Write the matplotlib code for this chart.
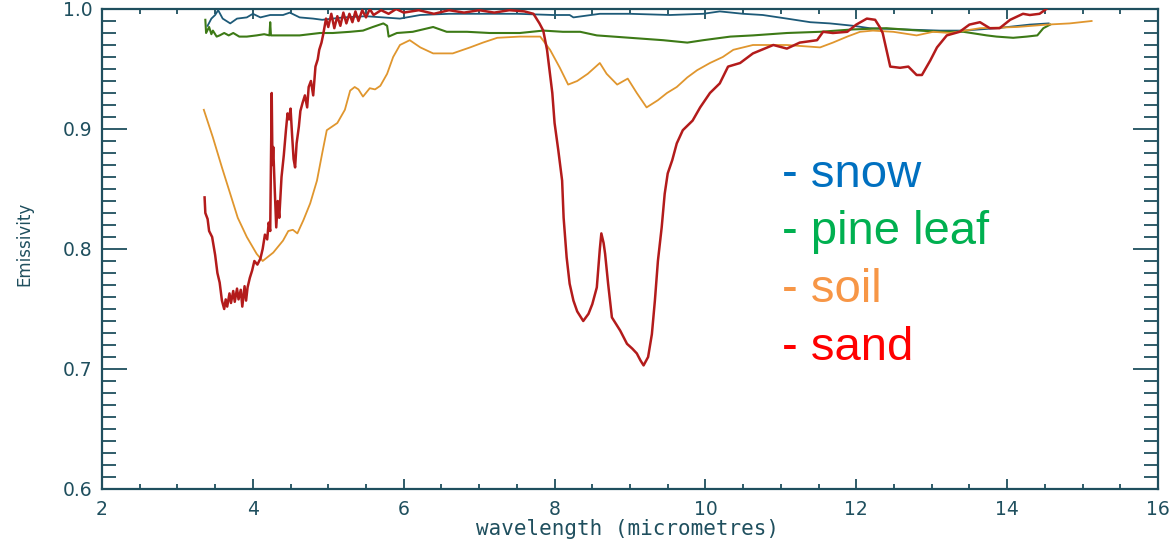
import matplotlib
matplotlib.use("Agg")
import matplotlib.pyplot as plt
from matplotlib.ticker import MultipleLocator, FormatStrFormatter

# ---- data ----
sand_x = [3.36, 3.37, 3.40, 3.42, 3.46, 3.50, 3.53, 3.56, 3.59, 3.62, 3.64, 3.66, 3.69, 3.71,
          3.74, 3.76, 3.79, 3.81, 3.84, 3.86, 3.89, 3.91, 3.93, 3.96, 3.99, 4.02, 4.06, 4.10,
          4.13, 4.16, 4.19, 4.21, 4.23, 4.25, 4.26, 4.27, 4.29, 4.31, 4.33, 4.35, 4.38, 4.41,
          4.44, 4.46, 4.48, 4.50, 4.52, 4.54, 4.56, 4.58, 4.61, 4.63, 4.66, 4.69, 4.72, 4.74,
          4.77, 4.80, 4.83, 4.86, 4.88, 4.91, 4.93, 4.95, 4.97, 5.00, 5.04, 5.08, 5.12, 5.16,
          5.20, 5.24, 5.28, 5.32, 5.36, 5.40, 5.45, 5.50, 5.55, 5.60, 5.70, 5.80, 5.90, 6.00,
          6.20, 6.40, 6.60, 6.80, 7.00, 7.20, 7.40, 7.60, 7.72, 7.80, 7.85, 7.90, 7.94, 7.97,
          8.00, 8.05, 8.10, 8.12, 8.16, 8.20, 8.25, 8.30, 8.38, 8.45, 8.50, 8.56, 8.60, 8.62,
          8.65, 8.67, 8.71, 8.76, 8.82, 8.87, 8.96, 9.03, 9.09, 9.14, 9.18, 9.24, 9.29, 9.33,
          9.37, 9.42, 9.46, 9.50, 9.56, 9.62, 9.70, 9.83, 9.93, 10.06, 10.19, 10.30, 10.46,
          10.63, 10.90, 11.08, 11.25, 11.48, 11.56, 11.69, 11.88, 12.00, 12.14, 12.25, 12.31,
          12.35, 12.40, 12.45, 12.58, 12.69, 12.80, 12.87, 12.98, 13.07, 13.20, 13.37, 13.50,
          13.64, 13.77, 13.90, 14.04, 14.21, 14.30, 14.43, 14.52]
sand_y = [0.843, 0.830, 0.825, 0.815, 0.810, 0.795, 0.780, 0.772, 0.757, 0.750, 0.758, 0.752,
          0.763, 0.755, 0.765, 0.756, 0.767, 0.758, 0.766, 0.752, 0.769, 0.757, 0.768, 0.776,
          0.782, 0.790, 0.787, 0.792, 0.800, 0.812, 0.808, 0.822, 0.815, 0.930, 0.870, 0.885,
          0.850, 0.818, 0.840, 0.826, 0.860, 0.878, 0.900, 0.913, 0.908, 0.917, 0.895, 0.875,
          0.868, 0.888, 0.902, 0.915, 0.922, 0.928, 0.918, 0.935, 0.940, 0.928, 0.952, 0.958,
          0.966, 0.972, 0.978, 0.985, 0.992, 0.985, 0.996, 0.984, 0.994, 0.986, 0.997, 0.988,
          0.996, 0.989, 0.998, 0.990, 0.999, 0.993, 1.000, 0.995, 0.999, 0.996, 1.000, 0.997,
          0.999, 0.996, 0.999, 0.997, 0.999, 0.997, 0.999, 0.998, 0.996, 0.988, 0.982, 0.966,
          0.945, 0.930, 0.905, 0.882, 0.857, 0.826, 0.793, 0.771, 0.757, 0.748, 0.740, 0.746,
          0.754, 0.768, 0.800, 0.813, 0.805, 0.796, 0.771, 0.743, 0.737, 0.732, 0.721, 0.717,
          0.713, 0.707, 0.703, 0.710, 0.729, 0.757, 0.790, 0.818, 0.846, 0.863, 0.874, 0.888,
          0.899, 0.907, 0.918, 0.930, 0.938, 0.952, 0.955, 0.963, 0.970, 0.967, 0.972, 0.974,
          0.981, 0.980, 0.981, 0.987, 0.992, 0.991, 0.985, 0.980, 0.966, 0.952, 0.951, 0.952,
          0.945, 0.945, 0.957, 0.968, 0.978, 0.981, 0.987, 0.989, 0.984, 0.984, 0.991, 0.996,
          0.995, 0.996, 1.000]

soil_x = [3.35, 3.47, 3.59, 3.70, 3.80, 3.92, 4.05, 4.13, 4.27, 4.40, 4.47, 4.53, 4.59, 4.67,
          4.76, 4.85, 4.92, 4.98, 5.05, 5.12, 5.22, 5.29, 5.35, 5.40, 5.46, 5.55, 5.62, 5.69,
          5.78, 5.86, 5.95, 6.08, 6.22, 6.39, 6.65, 6.88, 7.05, 7.24, 7.54, 7.81, 7.94, 8.07,
          8.18, 8.30, 8.44, 8.60, 8.69, 8.83, 8.97, 9.09, 9.22, 9.37, 9.49, 9.62, 9.76, 9.89,
          10.06, 10.23, 10.37, 10.63, 11.08, 11.52, 11.69, 11.88, 12.05, 12.22, 12.49, 12.80,
          13.02, 13.24, 13.64, 14.13, 14.53, 14.83, 15.12]
soil_y = [0.916, 0.893, 0.868, 0.846, 0.826, 0.810, 0.796, 0.790, 0.797, 0.807, 0.815, 0.816,
          0.813, 0.824, 0.838, 0.857, 0.880, 0.899, 0.902, 0.905, 0.916, 0.932, 0.935, 0.933,
          0.927, 0.934, 0.933, 0.936, 0.946, 0.960, 0.970, 0.974, 0.968, 0.963, 0.963, 0.968,
          0.972, 0.976, 0.977, 0.977, 0.966, 0.951, 0.937, 0.940, 0.946, 0.955, 0.946, 0.937,
          0.942, 0.930, 0.918, 0.924, 0.930, 0.935, 0.943, 0.949, 0.955, 0.960, 0.966, 0.970,
          0.970, 0.968, 0.972, 0.977, 0.981, 0.982, 0.981, 0.978, 0.981, 0.980, 0.984, 0.985,
          0.987, 0.988, 0.990]

snow_x = [3.40, 3.45, 3.50, 3.54, 3.60, 3.70, 3.79, 3.92, 4.00, 4.10, 4.23, 4.40, 4.49, 4.62,
          4.80, 4.92, 5.20, 5.50, 5.95, 6.22, 6.60, 7.00, 7.50, 7.98, 8.20, 8.25, 8.60, 9.00,
          9.53, 9.97, 10.19, 10.50, 10.76, 11.08, 11.39, 11.65, 11.96, 12.18, 12.62, 13.11,
          13.42, 13.86, 14.30, 14.55]
snow_y = [0.986, 0.992, 0.995, 0.999, 0.992, 0.988, 0.992, 0.993, 0.996, 0.993, 0.995, 0.995,
          0.997, 0.993, 0.992, 0.991, 0.993, 0.994, 0.992, 0.995, 0.996, 0.996, 0.996, 0.995,
          0.995, 0.993, 0.996, 0.996, 0.995, 0.996, 0.998, 0.996, 0.995, 0.992, 0.989, 0.988,
          0.986, 0.984, 0.983, 0.982, 0.982, 0.984, 0.987, 0.988]

pine_x = [3.37, 3.38, 3.42, 3.45, 3.47, 3.52, 3.56, 3.62, 3.68, 3.74, 3.82, 3.92, 4.05, 4.15,
          4.22, 4.23, 4.24, 4.40, 4.62, 4.89, 5.06, 5.29, 5.46, 5.59, 5.73, 5.78, 5.80, 5.91,
          6.12, 6.39, 6.57, 6.84, 7.14, 7.54, 7.85, 8.11, 8.34, 8.56, 9.00, 9.44, 9.76, 9.97,
          10.33, 10.63, 11.08, 11.52, 11.96, 12.40, 12.84, 13.11, 13.42, 13.73, 13.86, 14.08,
          14.26, 14.40, 14.48, 14.57]
pine_y = [0.991, 0.980, 0.985, 0.979, 0.982, 0.977, 0.978, 0.980, 0.978, 0.980, 0.977, 0.977,
          0.978, 0.979, 0.978, 0.989, 0.978, 0.978, 0.978, 0.980, 0.980, 0.981, 0.982, 0.985,
          0.988, 0.986, 0.977, 0.980, 0.981, 0.985, 0.981, 0.981, 0.980, 0.980, 0.982, 0.981,
          0.981, 0.978, 0.976, 0.974, 0.972, 0.974, 0.977, 0.978, 0.980, 0.981, 0.983, 0.984,
          0.982, 0.981, 0.981, 0.978, 0.977, 0.976, 0.977, 0.978, 0.984, 0.987]

legend_labels = ["snow", "pine leaf", "soil", "sand"]
legend_colors = ["#0070C0", "#00B050", "#F79646", "#FF0000"]

x_ticks = [2, 4, 6, 8, 10, 12, 14, 16]
y_ticks = [0.6, 0.7, 0.8, 0.9, 1.0]

# ---- figure ----
axis_col = "#1f4f5e"
fig = plt.figure(figsize=(11.75, 5.41), dpi=100)
ax = fig.add_axes([102/1175, 1 - 489/541, (1158-102)/1175, (489-9)/541])

ax.plot(snow_x, snow_y, color="#1d5a78", lw=1.3, zorder=3)
ax.plot(pine_x, pine_y, color="#3d7a16", lw=1.5, zorder=3)
ax.plot(soil_x, soil_y, color="#e0962e", lw=1.3, zorder=3)
ax.plot(sand_x, sand_y, color="#b31b1b", lw=1.8, zorder=4)

ax.set_xlim(2, 16)
ax.set_ylim(0.6, 1.0)
ax.set_xticks(x_ticks)
ax.set_yticks(y_ticks)
ax.xaxis.set_minor_locator(MultipleLocator(0.5))
ax.yaxis.set_minor_locator(MultipleLocator(0.01))
ax.yaxis.set_major_formatter(FormatStrFormatter("%.1f"))

for s in ax.spines.values():
    s.set_color(axis_col)
    s.set_linewidth(1.6)

ax.tick_params(axis="both", which="both", direction="in", top=True, right=True,
               color=axis_col, labelcolor=axis_col, width=1.3)
ax.tick_params(axis="y", which="major", length=18, pad=7, labelsize=13.5)
ax.tick_params(axis="y", which="minor", length=10)
ax.tick_params(axis="x", which="major", length=7, pad=8, labelsize=13.5)
ax.tick_params(axis="x", which="minor", length=3.5)

fig.text(0.534, 0.022, "wavelength (micrometres)", ha="center", va="center",
         fontsize=15, family="DejaVu Sans Mono", color=axis_col)
fig.text(0.021, 0.55, "Emissivity", rotation=90, ha="center", va="center",
         fontsize=12, color=axis_col)

# legend as coloured text
legend_baselines = [187, 244, 302, 360]
for lab, col, yb in zip(legend_labels, legend_colors, legend_baselines):
    fig.text(782/1175, 1 - yb/541, "- " + lab, color=col, fontsize=34,
             family="Liberation Sans", ha="left", va="baseline")

fig.savefig("out.png", dpi=100)
